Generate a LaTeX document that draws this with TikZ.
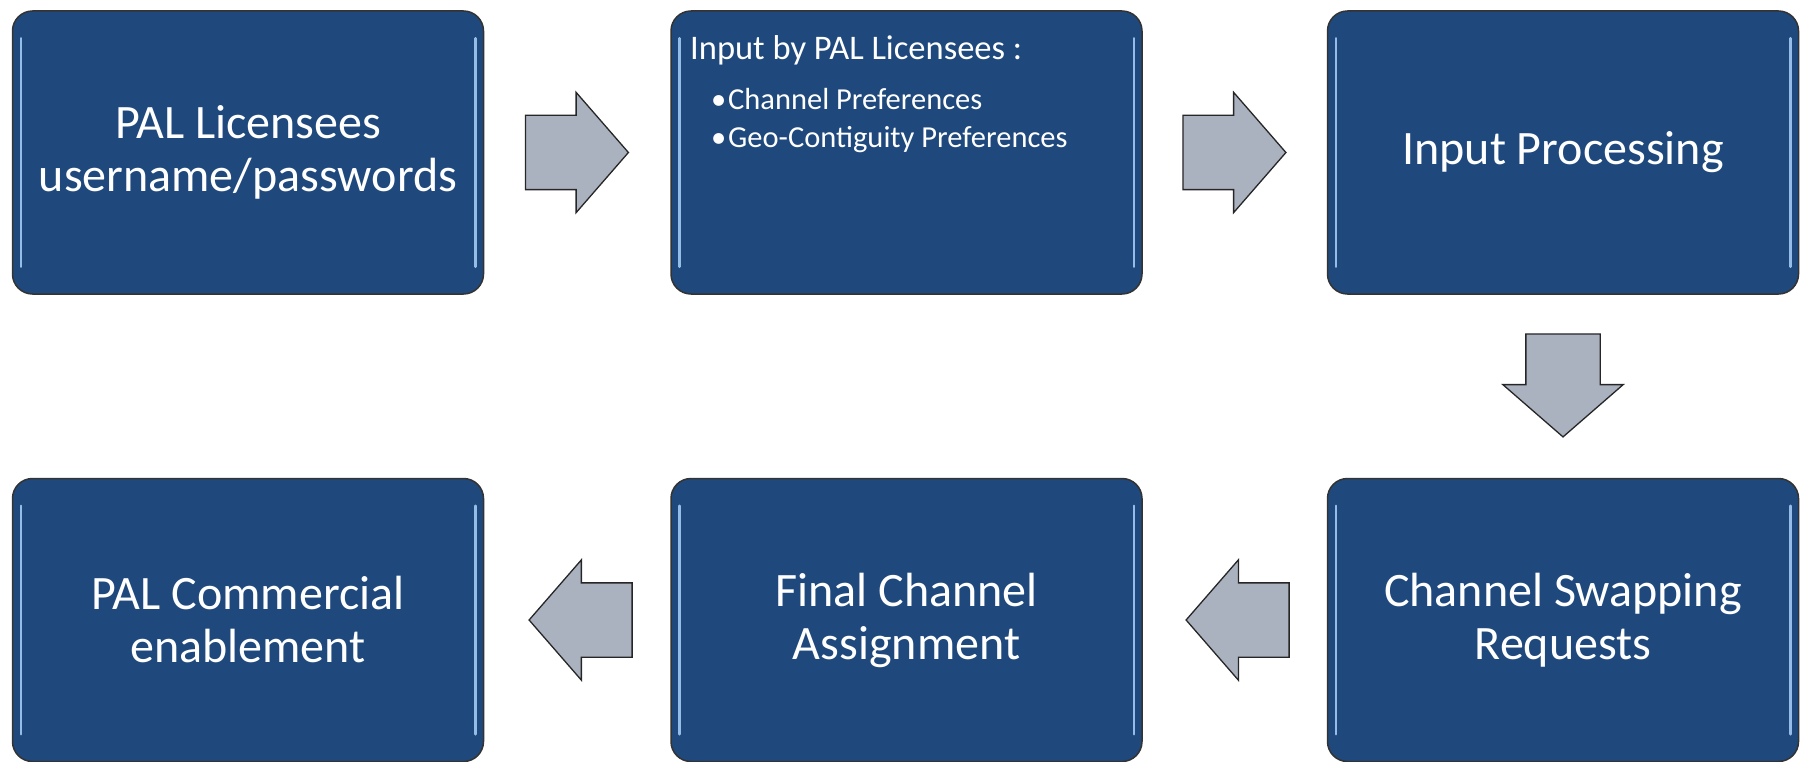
\documentclass[tikz,border=0pt]{standalone}
\usepackage{fontspec}
\setmainfont{Carlito}
\usetikzlibrary{shapes.arrows,calc}

\definecolor{boxblue}{RGB}{31,73,125}
\definecolor{arrowgray}{RGB}{170,177,191}
\definecolor{shine}{RGB}{150,188,232}

\tikzset{
  stagebox/.style={draw=black!80, line width=1.5pt, fill=boxblue, rounded corners=20pt,
    minimum width=471pt, minimum height=283pt, inner sep=0pt, text=white, align=center,
    font=\fontsize{48}{53}\selectfont},
  flowarrow/.style={single arrow, draw=black!85, line width=1.3pt, fill=arrowgray,
    minimum height=103pt, single arrow head extend=23pt, single arrow tip angle=98,
    inner xsep=0pt, inner ysep=36.5pt, anchor=tail},
  shineline/.style={shine, line width=2.5pt, line cap=round},
  boxtext/.style={anchor=base west, text=white, inner sep=0pt}
}

\begin{document}
\begin{tikzpicture}[x=1pt,y=-1pt]
\useasboundingbox (0,0) rectangle (1801,762);

\coordinate (B1) at (248,152.5);
\coordinate (B2) at (906.5,152.5);
\coordinate (B3) at (1563,152.5);
\coordinate (B4) at (1563,620);
\coordinate (B5) at (906.5,620);
\coordinate (B6) at (248,620);

\node[stagebox] (lic) at (B1) {PAL Licensees\\username/passwords};
\node[stagebox] (inp) at (B2) {};
\node[stagebox] (proc) at (B3) {Input Processing};
\node[stagebox] (swap) at (B4) {Channel Swapping\\Requests};
\node[stagebox] (final) at (B5) {Final Channel\\Assignment};
\node[stagebox] (comm) at (B6) {PAL Commercial\\enablement};

% text of the input box
\node[boxtext, font=\fontsize{34.5}{40}\selectfont] (inhead) at (690,60) {Input by PAL Licensees :};
\node[boxtext, font=\fontsize{30.5}{36}\selectfont] (pref1) at (711,110) {\makebox[17pt][l]{\textbullet}Channel Preferences};
\node[boxtext, font=\fontsize{30.5}{36}\selectfont] (pref2) at (711,148) {\makebox[17pt][l]{\textbullet}Geo-Contiguity Preferences};

% shine on the box edges
\draw[shineline] ([xshift=9pt,yshift=-28pt]lic.north west) -- ([xshift=9pt,yshift=28pt]lic.south west);
\draw[shineline] ([xshift=-9pt,yshift=-28pt]lic.north east) -- ([xshift=-9pt,yshift=28pt]lic.south east);
\draw[shineline] ([xshift=9pt,yshift=-28pt]inp.north west) -- ([xshift=9pt,yshift=28pt]inp.south west);
\draw[shineline] ([xshift=-9pt,yshift=-28pt]inp.north east) -- ([xshift=-9pt,yshift=28pt]inp.south east);
\draw[shineline] ([xshift=9pt,yshift=-28pt]proc.north west) -- ([xshift=9pt,yshift=28pt]proc.south west);
\draw[shineline] ([xshift=-9pt,yshift=-28pt]proc.north east) -- ([xshift=-9pt,yshift=28pt]proc.south east);
\draw[shineline] ([xshift=9pt,yshift=-28pt]swap.north west) -- ([xshift=9pt,yshift=28pt]swap.south west);
\draw[shineline] ([xshift=-9pt,yshift=-28pt]swap.north east) -- ([xshift=-9pt,yshift=28pt]swap.south east);
\draw[shineline] ([xshift=9pt,yshift=-28pt]final.north west) -- ([xshift=9pt,yshift=28pt]final.south west);
\draw[shineline] ([xshift=-9pt,yshift=-28pt]final.north east) -- ([xshift=-9pt,yshift=28pt]final.south east);
\draw[shineline] ([xshift=9pt,yshift=-28pt]comm.north west) -- ([xshift=9pt,yshift=28pt]comm.south west);
\draw[shineline] ([xshift=-9pt,yshift=-28pt]comm.north east) -- ([xshift=-9pt,yshift=28pt]comm.south east);

% block arrows between the stages
\node[flowarrow] (a1) at ($(lic.east)!0.5!(inp.west)+(-52.5,0)$) {};
\node[flowarrow] (a2) at ($(inp.east)!0.5!(proc.west)+(-52.5,0)$) {};
\node[flowarrow, rotate=-90] (a3) at ($(proc.south)!0.5!(swap.north)+(0,-53)$) {};
\node[flowarrow, rotate=180] (a4) at ($(swap.west)!0.5!(final.east)+(55,0)$) {};
\node[flowarrow, rotate=180] (a5) at ($(final.west)!0.5!(comm.east)+(55.5,0)$) {};
\end{tikzpicture}
\end{document}
